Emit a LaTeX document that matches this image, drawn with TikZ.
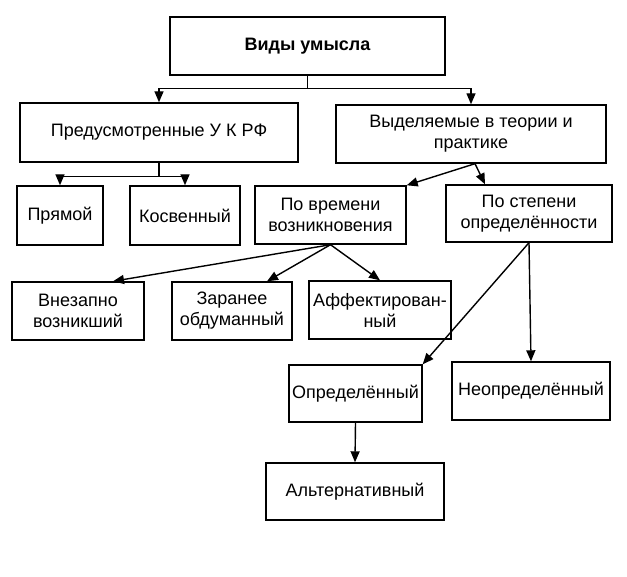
\documentclass[tikz,border=0pt]{standalone}
\usepackage{fontspec}
\setmainfont{Liberation Sans}
\usetikzlibrary{arrows.meta}
\begin{document}
\begin{tikzpicture}[x=1pt, y=-1pt,
    box/.style={draw, line width=1.4pt, align=center, inner sep=1pt,
        font=\fontsize{18}{21}\selectfont},
    arr/.style={-{Triangle[length=11pt, width=9pt]}, line width=1.4pt}]
    \useasboundingbox (0,0) rectangle (627,577);
    \foreach \x/\y/\w/\h/\txt/\name in {
        307.5/46/275/58/{\textbf{Виды умысла}}/vid,
        159/132.5/278/59/{Предусмотренные У К РФ}/uk,
        471/134/270/58/{Выделяемые в теории и\\практике}/teor,
        60/215.5/86/59/{Прямой}/pryam,
        185/215.5/110/59/{Косвенный}/kosv,
        330.5/215/151/58/{По времени\\возникновения}/vrem,
        529/213.5/166/57/{По степени\\определённости}/stepen,
        78/311/132/58/{Внезапно\\возникший}/vnez,
        232/311/120/58/{Заранее\\обдуманный}/zar,
        380/310/142/58/{Аффектирован-\\ный}/aff,
        355.5/393.5/133/57/{Определённый}/opr,
        531/391/158/58/{Неопределённый}/neopr,
        355/491.5/178/57/{Альтернативный}/alt}
    {
        \node[box, minimum width=\w, minimum height=\h] (\name) at (\x, \y) {\txt};
    }
    \draw[arr] (vid.south) -- ++(0,13) -| (uk.north);
    \draw[arr] (vid.south) -- ++(0,13) -| (teor.north);
    \draw[arr] (uk.south) -- ++(0,14) -| (pryam.north);
    \draw[arr] (uk.south) -- ++(0,14) -| (kosv.north);

    \draw[arr] ([xshift=4pt]teor.south) -- (vrem.north east);
    \draw[arr] ([xshift=4pt]teor.south) -- ([xshift=-44pt]stepen.north);

    \draw[arr] (vrem.south) -- ([xshift=35pt]vnez.north);
    \draw[arr] (vrem.south) -- ([xshift=35pt]zar.north);
    \draw[arr] (vrem.south) -- (aff.north);

    \draw[arr] (stepen.south) -- (opr.north east);
    \draw[arr] (stepen.south) -- (neopr.north);
    \draw[arr] (opr.south) -- (alt.north);
\end{tikzpicture}
\end{document}
